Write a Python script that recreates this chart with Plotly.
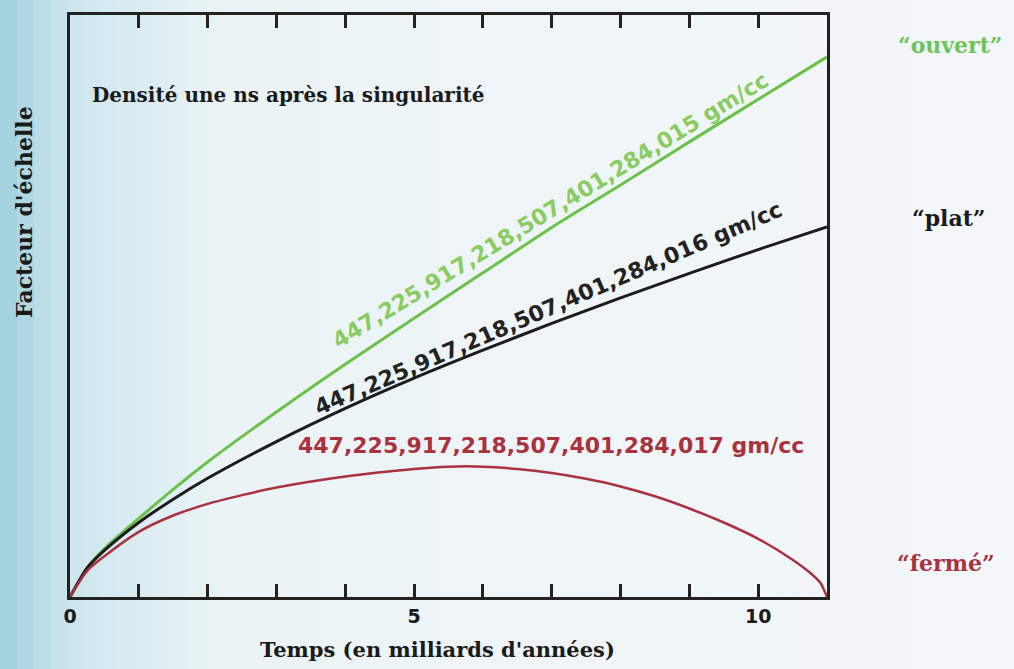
import plotly.graph_objects as go

# ---- data ----
t_open = [0, 0.25, 0.5, 1, 1.5, 2, 3, 4, 5, 6, 7, 8, 9, 10, 11]
a_open = [0, 0.05, 0.083, 0.135, 0.185, 0.232, 0.318, 0.40, 0.479, 0.557, 0.635, 0.708, 0.782, 0.855, 0.928]

t_flat = [0, 0.25, 0.5, 1, 1.5, 2, 3, 4, 5, 6, 7, 8, 9, 10, 11]
a_flat = [0, 0.05, 0.08, 0.128, 0.168, 0.204, 0.267, 0.324, 0.376, 0.424, 0.47, 0.514, 0.556, 0.597, 0.636]

t_closed = [0, 0.25, 0.5, 1, 1.5, 2, 2.5, 3, 4, 5, 5.5, 6, 6.5, 7, 7.5, 8, 8.5, 9, 9.5, 10, 10.5, 10.75, 10.9, 11]
a_closed = [0, 0.045, 0.07, 0.112, 0.14, 0.16, 0.175, 0.188, 0.207, 0.22, 0.224, 0.224, 0.22, 0.213, 0.203, 0.19,
            0.173, 0.152, 0.128, 0.1, 0.064, 0.042, 0.025, 0]

x_tickvals = [0, 1, 2, 3, 4, 5, 6, 7, 8, 9, 10]
x_ticktext = ["0", "", "", "", "", "5", "", "", "", "", "10"]

density_open = "447,225,917,218,507,401,284,015 gm/cc"
density_flat = "447,225,917,218,507,401,284,016 gm/cc"
density_closed = "447,225,917,218,507,401,284,017 gm/cc"

GREEN = "#6cc14a"
BLACK = "#1c1c1c"
RED = "#a8323e"

fig = go.Figure()
fig.add_trace(go.Scatter(x=t_open, y=a_open, mode="lines",
                         line=dict(color=GREEN, width=3, shape="spline", smoothing=0.7), showlegend=False))
fig.add_trace(go.Scatter(x=t_flat, y=a_flat, mode="lines",
                         line=dict(color=BLACK, width=3, shape="spline", smoothing=0.7), showlegend=False))
fig.add_trace(go.Scatter(x=t_closed, y=a_closed, mode="lines",
                         line=dict(color=RED, width=2.5, shape="spline", smoothing=0.8), showlegend=False))

# background gradient (light blue on the left fading to near white)
stops = [(0.0, (160, 208, 222)), (0.07, (205, 230, 238)), (0.22, (235, 243, 246)), (1.0, (244, 247, 249))]
def col_at(f):
    for (f0, c0), (f1, c1) in zip(stops[:-1], stops[1:]):
        if f0 <= f <= f1:
            r = (f - f0) / (f1 - f0)
            return "rgb(%d,%d,%d)" % tuple(round(c0[i] + (c1[i] - c0[i]) * r) for i in range(3))
    return "rgb(244,247,249)"

W, H = 1014, 669
L, R, T, B = 70, 187, 15, 72
pw, ph = W - L - R, H - T - B
N = 60
shapes = []
for i in range(N):
    f0, f1 = i / N, (i + 1) / N
    px0, px1 = f0 * W, f1 * W + 1
    shapes.append(dict(type="rect", xref="paper", yref="paper",
                       x0=(px0 - L) / pw, x1=(px1 - L) / pw,
                       y0=-B / ph - 0.01, y1=(H - B) / ph + 0.01,
                       fillcolor=col_at((f0 + f1) / 2), line=dict(width=0), layer="below"))

def px(xp):
    return (xp - L) / pw

def py(yp):
    return (H - B - yp) / ph

serif = "DejaVu Serif"
annotations = [
    dict(text="<b>Densité une ns après la singularité</b>", x=px(90), y=py(95), xanchor="left",
         font=dict(family=serif, size=20, color="#1a1a1a")),
    dict(text="<b>" + density_open + "</b>", x=px(550), y=py(210), textangle=-31.5,
         font=dict(family="DejaVu Sans", size=22, color="#8acb62")),
    dict(text="<b>" + density_flat + "</b>", x=px(548), y=py(308), textangle=-23.3,
         font=dict(family="DejaVu Sans", size=22, color="#222222")),
    dict(text="<b>" + density_closed + "</b>", x=px(551), y=py(445), textangle=0,
         font=dict(family="DejaVu Sans", size=22, color=RED)),
    dict(text="<b>“ouvert”</b>", x=px(950), y=py(45),
         font=dict(family=serif, size=22, color="#6cc45a")),
    dict(text="<b>“plat”</b>", x=px(948), y=py(218),
         font=dict(family=serif, size=22, color="#1a1a1a")),
    dict(text="<b>“fermé”</b>", x=px(946), y=py(563),
         font=dict(family=serif, size=22, color="#a8323e")),
    dict(text="<b>Facteur d'échelle</b>", x=px(24), y=py(212), textangle=-90,
         font=dict(family=serif, size=22, color="#1a1a1a")),
    dict(text="<b>Temps (en milliards d'années)</b>", x=px(437), y=py(650),
         font=dict(family=serif, size=21, color="#1a1a1a")),
]
for a in annotations:
    a.setdefault("xanchor", "center")
    a.update(xref="paper", yref="paper", yanchor="middle", showarrow=False)

fig.update_layout(
    width=W, height=H,
    margin=dict(l=L, r=R, t=T, b=B, autoexpand=False),
    paper_bgcolor="rgb(244,247,249)",
    plot_bgcolor="rgba(0,0,0,0)",
    shapes=shapes,
    annotations=annotations,
    showlegend=False,
)
fig.update_xaxes(range=[0, 11], tickvals=x_tickvals, ticktext=x_ticktext,
                 ticks="inside", ticklen=13, tickwidth=3, tickcolor="#222",
                 showline=True, linewidth=3, linecolor="#222", mirror="allticks",
                 showgrid=False, zeroline=False, layer="above traces",
                 tickfont=dict(family="DejaVu Sans", size=19, color="#1a1a1a", weight="bold"))
fig.update_yaxes(range=[0, 1], showticklabels=False, ticks="",
                 showline=True, linewidth=3, linecolor="#222", mirror=True,
                 showgrid=False, zeroline=False, layer="above traces")

fig.write_html("out.html")
